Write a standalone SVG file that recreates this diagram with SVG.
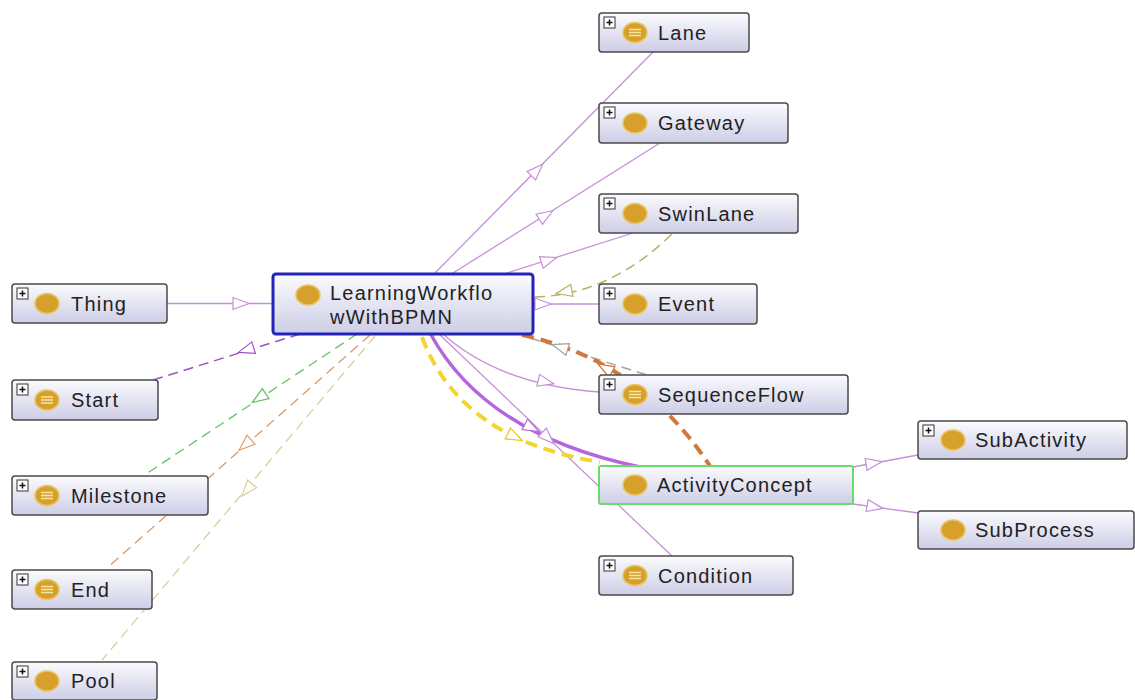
<svg xmlns="http://www.w3.org/2000/svg" xmlns:xlink="http://www.w3.org/1999/xlink" width="1135" height="700" viewBox="0 0 1135 700">
  <style>
    .box { fill: url(#nodeFill); stroke: #4a4a4a; stroke-width: 1.5; }
    .label { font-family: "Liberation Sans", Arial, sans-serif; font-size: 20px; letter-spacing: 1.2px; fill: #222; }
    .dot { fill: #d6a02a; stroke: #e9c565; stroke-width: 1.5; }
    .eq { stroke: #f6e6a6; stroke-width: 1.3; }
    .plusbox { fill: #fff; stroke: #333; stroke-width: 1; }
    .plus { stroke: #111; stroke-width: 1.5; }
    .sub { fill: none; stroke: #c78fd8; stroke-width: 1.3; }
    .arr { fill: #fff; stroke-width: 1.2; }
  </style>
  <defs>
    <linearGradient id="nodeFill" x1="0" y1="0" x2="0" y2="1">
      <stop offset="0" stop-color="#fbfbfe"/>
      <stop offset="1" stop-color="#cdcde6"/>
    </linearGradient>
    <path id="tri" d="M8,0 L-8,-6 L-8,6 Z"/>
    <g id="plusIcon">
      <rect class="plusbox" x="0" y="0" width="11" height="11"/>
      <path class="plus" d="M2.5,5.5 H8.5 M5.5,2.5 V8.5"/>
    </g>
  </defs>

  <rect width="1135" height="700" fill="#ffffff"/>

  <!-- connectors -->
  <g id="connectors">
    <!-- subclass links (thin purple) -->
    <line class="sub" x1="167" y1="303.5" x2="273" y2="303.5"/>
    <line class="sub" x1="435" y1="273" x2="653" y2="52"/>
    <line class="sub" x1="453" y1="273" x2="660" y2="143"/>
    <line class="sub" x1="507" y1="273" x2="633" y2="233"/>
    <line class="sub" x1="533" y1="304" x2="599" y2="304"/>
    <path class="sub" d="M443,334 Q500,385 600,392"/>
    <line class="sub" x1="440" y1="335" x2="672" y2="556"/>
    <line class="sub" x1="853" y1="467" x2="918" y2="455"/>
    <line class="sub" x1="853" y1="504" x2="918" y2="513"/>

    <!-- dashed relations to the left column -->
    <line x1="300" y1="334" x2="153" y2="380" stroke="#9a52c2" stroke-width="1.5" stroke-dasharray="10,6"/>
    <line x1="357" y1="334" x2="143" y2="476" stroke="#62c462" stroke-width="1.3" stroke-dasharray="10,6"/>
    <line x1="370" y1="335" x2="107" y2="568" stroke="#d69a6e" stroke-width="1.3" stroke-dasharray="10,6"/>
    <line x1="375" y1="336" x2="102" y2="660" stroke="#d8cf9c" stroke-width="1.3" stroke-dasharray="10,6"/>

    <!-- dashed relations to the right -->
    <path d="M535,297 Q610,295 673,233" fill="none" stroke="#b9b25e" stroke-width="1.5" stroke-dasharray="10,6"/>
    <line x1="530" y1="338" x2="647" y2="375" stroke="#a3a3a3" stroke-width="1.5" stroke-dasharray="10,6"/>
    <path d="M522,335 Q640,360 710,466" fill="none" stroke="#d2773a" stroke-width="4" stroke-dasharray="12,7"/>
    <path d="M422,337 Q460,440 600,462" fill="none" stroke="#f2d433" stroke-width="4" stroke-dasharray="12,7"/>
    <path d="M430,333 Q485,435 640,467" fill="none" stroke="#b566dd" stroke-width="3.5"/>

    <!-- arrowheads -->
    <use href="#tri" class="arr" stroke="#c78fd8" transform="translate(241,303.5)"/>
    <use href="#tri" class="arr" stroke="#c78fd8" transform="translate(537,170) rotate(-45.4)"/>
    <use href="#tri" class="arr" stroke="#c78fd8" transform="translate(546,215) rotate(-32.1)"/>
    <use href="#tri" class="arr" stroke="#c78fd8" transform="translate(549,260) rotate(-17.6)"/>
    <use href="#tri" class="arr" stroke="#c78fd8" transform="translate(543,304)"/>
    <use href="#tri" class="arr" stroke="#c78fd8" transform="translate(546,382) rotate(13)"/>
    <use href="#tri" class="arr" stroke="#c78fd8" transform="translate(548,438) rotate(43.6)"/>
    <use href="#tri" class="arr" stroke="#c78fd8" transform="translate(874,463) rotate(-9.6)"/>
    <use href="#tri" class="arr" stroke="#c78fd8" transform="translate(875,507) rotate(10)"/>
    <use href="#tri" class="arr" stroke="#9a52c2" transform="translate(246,350) rotate(162.6)"/>
    <use href="#tri" class="arr" stroke="#62c462" transform="translate(259,398) rotate(146.4)"/>
    <use href="#tri" class="arr" stroke="#d69a6e" transform="translate(245,445) rotate(138.5)"/>
    <use href="#tri" class="arr" stroke="#d8cf9c" transform="translate(247,490) rotate(130.1)"/>
    <use href="#tri" class="arr" stroke="#b9b25e" transform="translate(564,292) rotate(169)"/>
    <use href="#tri" class="arr" stroke="#a3a3a3" transform="translate(560,347) rotate(197.5)"/>
    <use href="#tri" class="arr" stroke="#d2773a" transform="translate(605,368) rotate(210)"/>
    <use href="#tri" class="arr" stroke="#b566dd" transform="translate(532,428) rotate(27.5)"/>
    <use href="#tri" class="arr" stroke="#e8c820" transform="translate(515,437) rotate(25.8)"/>
  </g>

  <!-- nodes -->
  <g id="node-central">
    <rect x="273" y="274" width="260" height="60" rx="3" fill="url(#nodeFill)" stroke="#2323b8" stroke-width="3"/>
    <ellipse class="dot" cx="308" cy="295" rx="12" ry="10"/>
    <text class="label" x="330" y="300">LearningWorkflo</text>
    <text class="label" x="330" y="324">wWithBPMN</text>
  </g>

  <g id="node-thing">
    <rect class="box" x="12" y="284" width="155" height="39" rx="3"/>
    <use href="#plusIcon" x="17" y="288"/>
    <ellipse class="dot" cx="47" cy="303.5" rx="12" ry="10"/>
    <text class="label" x="71" y="311">Thing</text>
  </g>

  <g id="node-start">
    <rect class="box" x="12" y="380" width="146" height="40" rx="3"/>
    <use href="#plusIcon" x="17" y="384"/>
    <ellipse class="dot" cx="47" cy="400" rx="12" ry="10"/>
    <path class="eq" d="M41,397 H53 M41,400 H53 M41,403 H53"/>
    <text class="label" x="71" y="407">Start</text>
  </g>

  <g id="node-milestone">
    <rect class="box" x="12" y="476" width="196" height="39" rx="3"/>
    <use href="#plusIcon" x="17" y="480"/>
    <ellipse class="dot" cx="47" cy="495.5" rx="12" ry="10"/>
    <path class="eq" d="M41,492.5 H53 M41,495.5 H53 M41,498.5 H53"/>
    <text class="label" x="71" y="503">Milestone</text>
  </g>

  <g id="node-end">
    <rect class="box" x="12" y="570" width="140" height="39" rx="3"/>
    <use href="#plusIcon" x="17" y="574"/>
    <ellipse class="dot" cx="47" cy="589.5" rx="12" ry="10"/>
    <path class="eq" d="M41,586.5 H53 M41,589.5 H53 M41,592.5 H53"/>
    <text class="label" x="71" y="597">End</text>
  </g>

  <g id="node-pool">
    <rect class="box" x="12" y="662" width="145" height="38" rx="3"/>
    <use href="#plusIcon" x="17" y="666"/>
    <ellipse class="dot" cx="47" cy="681" rx="12" ry="10"/>
    <text class="label" x="71" y="688">Pool</text>
  </g>

  <g id="node-lane">
    <rect class="box" x="599" y="13" width="150" height="39" rx="3"/>
    <use href="#plusIcon" x="604" y="17"/>
    <ellipse class="dot" cx="635" cy="32.5" rx="12" ry="10"/>
    <path class="eq" d="M629,29.5 H641 M629,32.5 H641 M629,35.5 H641"/>
    <text class="label" x="658" y="40">Lane</text>
  </g>

  <g id="node-gateway">
    <rect class="box" x="599" y="103" width="189" height="40" rx="3"/>
    <use href="#plusIcon" x="604" y="107"/>
    <ellipse class="dot" cx="635" cy="123" rx="12" ry="10"/>
    <text class="label" x="658" y="130">Gateway</text>
  </g>

  <g id="node-swinlane">
    <rect class="box" x="599" y="194" width="199" height="39" rx="3"/>
    <use href="#plusIcon" x="604" y="198"/>
    <ellipse class="dot" cx="635" cy="213.5" rx="12" ry="10"/>
    <text class="label" x="658" y="221">SwinLane</text>
  </g>

  <g id="node-event">
    <rect class="box" x="599" y="284" width="158" height="40" rx="3"/>
    <use href="#plusIcon" x="604" y="288"/>
    <ellipse class="dot" cx="635" cy="304" rx="12" ry="10"/>
    <text class="label" x="658" y="311">Event</text>
  </g>

  <g id="node-sequenceflow">
    <rect class="box" x="599" y="375" width="249" height="39" rx="3"/>
    <use href="#plusIcon" x="604" y="379"/>
    <ellipse class="dot" cx="635" cy="394.5" rx="12" ry="10"/>
    <path class="eq" d="M629,391.5 H641 M629,394.5 H641 M629,397.5 H641"/>
    <text class="label" x="658" y="402">SequenceFlow</text>
  </g>

  <g id="node-activityconcept">
    <rect x="599" y="466" width="254" height="38" rx="2" fill="url(#nodeFill)" stroke="#66dd66" stroke-width="2"/>
    <ellipse class="dot" cx="635" cy="485" rx="12" ry="10"/>
    <text class="label" x="657" y="492">ActivityConcept</text>
  </g>

  <g id="node-condition">
    <rect class="box" x="599" y="556" width="194" height="39" rx="3"/>
    <use href="#plusIcon" x="604" y="560"/>
    <ellipse class="dot" cx="635" cy="575.5" rx="12" ry="10"/>
    <path class="eq" d="M629,572.5 H641 M629,575.5 H641 M629,578.5 H641"/>
    <text class="label" x="658" y="583">Condition</text>
  </g>

  <g id="node-subactivity">
    <rect class="box" x="918" y="421" width="209" height="38" rx="3"/>
    <use href="#plusIcon" x="923" y="425"/>
    <ellipse class="dot" cx="953" cy="440" rx="12" ry="10"/>
    <text class="label" x="975" y="447">SubActivity</text>
  </g>

  <g id="node-subprocess">
    <rect class="box" x="918" y="511" width="216" height="38" rx="3"/>
    <ellipse class="dot" cx="953" cy="530" rx="12" ry="10"/>
    <text class="label" x="975" y="537">SubProcess</text>
  </g>
</svg>
